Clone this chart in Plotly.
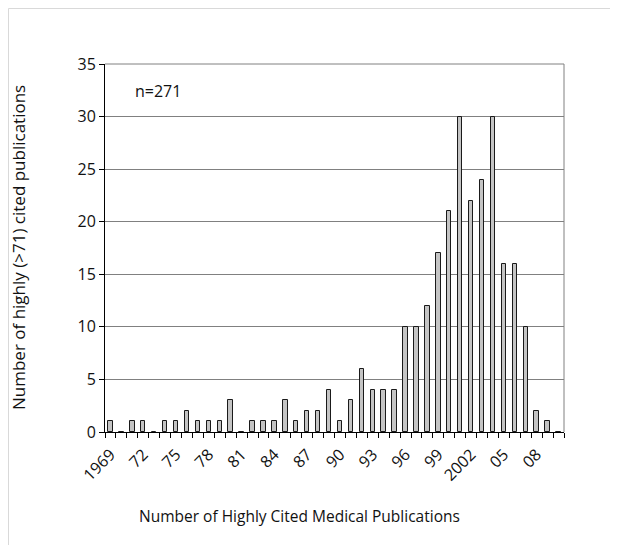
import plotly.graph_objects as go

years = list(range(1969, 2011))
counts = [1, 0, 1, 1, 0, 1, 1, 2, 1, 1,
          1, 3, 0, 1, 1, 1, 3, 1, 2, 2,
          4, 1, 3, 6, 4, 4, 4, 10, 10, 12,
          17, 21, 30, 22, 24, 30, 16, 16, 10, 2,
          1, 0]
tick_years = [1969, 1972, 1975, 1978, 1981, 1984, 1987, 1990, 1993, 1996, 1999, 2002, 2005, 2008]
tick_text = ["1969", "72", "75", "78", "81", "84", "87", "90", "93", "96", "99", "2002", "05", "08"]
y_title = "Number of highly (>71) cited publications"
x_title = "Number of Highly Cited Medical Publications"
note = "n=271"

FONT = "Open Sans"
L, T, PW, PH = 97, 56, 459, 368
W, H = 618, 545

fig = go.Figure()
fig.add_trace(go.Bar(
    x=years, y=counts, width=0.4,
    marker=dict(color="#c4c4c4", line=dict(color="#1a1a1a", width=1)),
    showlegend=False,
))


def px_x(fx):
    return (fx - L) / PW


def px_y(fy):
    return 1 - (fy - T) / PH


fig.update_layout(
    width=W, height=H,
    margin=dict(l=L, r=W - L - PW, t=T, b=H - T - PH),
    paper_bgcolor="white", plot_bgcolor="white",
    font=dict(family=FONT, size=15, color="#111111"),
    bargap=0,
    xaxis=dict(
        range=[1968.5, 2010.5],
        tickmode="array", tickvals=tick_years, ticktext=tick_text,
        tickangle=-45, ticks="", showgrid=False, zeroline=False,
        showline=True, linecolor="black", linewidth=1,
        tickfont=dict(size=16), ticklabelstandoff=6,
        minor=dict(ticks="outside", ticklen=5, tickcolor="black", tick0=1968.5, dtick=1, showgrid=False),
    ),
    yaxis=dict(
        range=[0, 35], dtick=5, ticks="outside", ticklen=5, tickcolor="black",
        showgrid=True, gridcolor="#808080", gridwidth=1, zeroline=False,
        showline=True, linecolor="black", linewidth=1,
        tickfont=dict(size=16),
    ),
    shapes=[
        dict(type="line", xref="paper", yref="paper", x0=1, x1=1, y0=0, y1=1,
             line=dict(color="#808080", width=1)),
        dict(type="line", xref="paper", yref="paper", x0=0, x1=1, y0=1, y1=1,
             line=dict(color="#808080", width=1)),
        dict(type="line", xref="paper", yref="paper", x0=px_x(0.5), x1=px_x(W),
             y0=px_y(0.5), y1=px_y(0.5),
             line=dict(color="#d9d9d9", width=1)),
        dict(type="line", xref="paper", yref="paper", x0=px_x(0.5), x1=px_x(0.5),
             y0=px_y(0.5), y1=px_y(H),
             line=dict(color="#d9d9d9", width=1)),
    ],
    annotations=[
        dict(text=note, x=1971.1, y=32.4, xref="x", yref="y", xanchor="left", yanchor="middle",
             showarrow=False, font=dict(size=16)),
        dict(text=y_title, xref="paper", yref="paper", x=px_x(10), y=0.5,
             xanchor="center", yanchor="middle", textangle=-90, showarrow=False, font=dict(size=17)),
        dict(text=x_title, xref="paper", yref="paper", x=px_x(291), y=px_y(508),
             xanchor="center", yanchor="middle", showarrow=False, font=dict(size=15.5)),
    ],
)

fig.write_html("out.html")
